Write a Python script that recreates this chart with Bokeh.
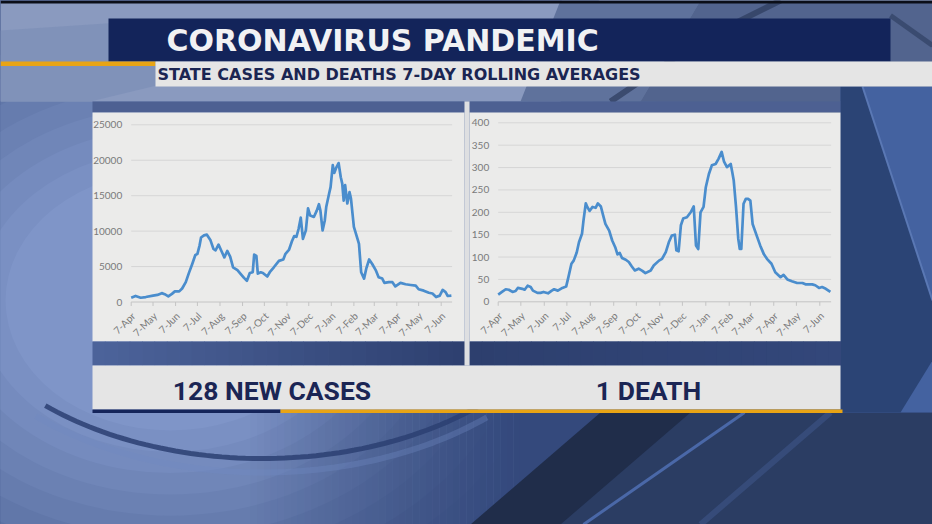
import math
import pandas as pd
from bokeh.plotting import figure
from bokeh.models import Range1d
from bokeh.core.properties import value
from bokeh.embed import file_html
from bokeh.resources import INLINE

# ---------------- data ----------------
TITLE = "CORONAVIRUS PANDEMIC"
SUBTITLE = "STATE CASES AND DEATHS 7-DAY ROLLING AVERAGES"
LEFT_LABEL = "128 NEW CASES"
RIGHT_LABEL = "1 DEATH"

month_labels = ["7-Apr", "7-May", "7-Jun", "7-Jul", "7-Aug", "7-Sep", "7-Oct", "7-Nov",
                "7-Dec", "7-Jan", "7-Feb", "7-Mar", "7-Apr", "7-May", "7-Jun"]
case_ticks = [0, 5000, 10000, 15000, 20000, 25000]
death_ticks = [0, 50, 100, 150, 200, 250, 300, 350, 400]

case_dates = [
    "2020-04-07", "2020-04-13", "2020-04-20", "2020-04-27", "2020-05-07", "2020-05-13",
    "2020-05-19", "2020-05-23", "2020-05-28", "2020-06-02", "2020-06-06", "2020-06-12",
    "2020-06-16", "2020-06-21", "2020-06-25", "2020-06-30", "2020-07-04", "2020-07-07",
    "2020-07-10", "2020-07-12", "2020-07-16", "2020-07-20", "2020-07-25", "2020-07-29",
    "2020-08-01", "2020-08-05", "2020-08-09", "2020-08-13", "2020-08-17", "2020-08-21",
    "2020-08-25", "2020-08-31", "2020-09-04", "2020-09-09", "2020-09-13", "2020-09-17",
    "2020-09-21", "2020-09-23", "2020-09-26", "2020-09-28", "2020-10-02", "2020-10-05",
    "2020-10-11", "2020-10-15", "2020-10-20", "2020-10-27", "2020-11-02", "2020-11-05",
    "2020-11-10", "2020-11-14", "2020-11-17", "2020-11-20", "2020-11-23", "2020-11-26",
    "2020-11-29", "2020-12-03", "2020-12-06", "2020-12-09", "2020-12-14", "2020-12-18",
    "2020-12-21", "2020-12-23", "2020-12-26", "2020-12-29", "2020-12-31", "2021-01-04",
    "2021-01-06", "2021-01-09", "2021-01-11", "2021-01-14", "2021-01-17", "2021-01-20",
    "2021-01-22", "2021-01-24", "2021-01-26", "2021-01-29", "2021-02-01", "2021-02-03",
    "2021-02-07", "2021-02-12", "2021-02-14", "2021-02-17", "2021-02-21", "2021-02-24",
    "2021-02-28", "2021-03-04", "2021-03-09", "2021-03-13", "2021-03-18", "2021-03-21",
    "2021-03-27", "2021-04-01", "2021-04-05", "2021-04-12", "2021-04-19", "2021-04-26",
    "2021-05-03", "2021-05-07", "2021-05-14", "2021-05-21", "2021-05-26", "2021-05-31",
    "2021-06-05", "2021-06-09", "2021-06-13", "2021-06-16", "2021-06-21"]
case_values = [
    600, 850, 600, 700, 900, 1000,
    1250, 1100, 800, 1150, 1500, 1500,
    1900, 2800, 4000, 5400, 6600, 6800,
    8000, 9100, 9400, 9500, 8700, 7500,
    7300, 8100, 7200, 6300, 7200, 6400,
    4900, 4500, 4000, 3400, 3000, 4100,
    4200, 6700, 6500, 4000, 4200, 4100,
    3600, 4300, 4900, 5800, 6000, 6800,
    7400, 8600, 9300, 9200, 10300, 11900,
    8900, 10100, 13200, 12200, 12000, 12900,
    13800, 12900, 10100, 11500, 13400, 15300,
    16200, 19300, 18200, 19000, 19600, 17600,
    16700, 14300, 16500, 13900, 15500, 14600,
    10600, 8900, 8200, 4200, 3300, 4700,
    6000, 5400, 4500, 3500, 3300, 2700,
    2800, 2800, 2200, 2700, 2500, 2400,
    2300, 1800, 1600, 1300, 1200, 700,
    900, 1700, 1400, 850, 900]

death_dates = [
    "2020-04-07", "2020-04-12", "2020-04-17", "2020-04-21", "2020-04-26", "2020-04-30",
    "2020-05-03", "2020-05-09", "2020-05-12", "2020-05-16", "2020-05-20", "2020-05-23",
    "2020-05-29", "2020-06-02", "2020-06-06", "2020-06-12", "2020-06-17", "2020-06-20",
    "2020-06-25", "2020-07-01", "2020-07-06", "2020-07-09", "2020-07-13", "2020-07-16",
    "2020-07-20", "2020-07-23", "2020-07-27", "2020-07-29", "2020-08-01", "2020-08-03",
    "2020-08-06", "2020-08-10", "2020-08-14", "2020-08-17", "2020-08-21", "2020-08-24",
    "2020-08-27", "2020-09-01", "2020-09-05", "2020-09-09", "2020-09-12", "2020-09-15",
    "2020-09-18", "2020-09-23", "2020-09-27", "2020-10-01", "2020-10-05", "2020-10-10",
    "2020-10-15", "2020-10-19", "2020-10-26", "2020-10-30", "2020-11-06", "2020-11-10",
    "2020-11-15", "2020-11-19", "2020-11-23", "2020-11-27", "2020-11-29", "2020-12-02",
    "2020-12-05", "2020-12-08", "2020-12-13", "2020-12-18", "2020-12-22", "2020-12-25",
    "2020-12-28", "2020-12-31", "2021-01-04", "2021-01-07", "2021-01-11", "2021-01-15",
    "2021-01-20", "2021-01-24", "2021-01-28", "2021-01-31", "2021-02-04", "2021-02-09",
    "2021-02-11", "2021-02-13", "2021-02-16", "2021-02-19", "2021-02-21", "2021-02-23",
    "2021-02-26", "2021-03-01", "2021-03-04", "2021-03-07", "2021-03-10", "2021-03-16",
    "2021-03-20", "2021-03-25", "2021-03-29", "2021-04-04", "2021-04-09", "2021-04-16",
    "2021-04-20", "2021-04-25", "2021-05-01", "2021-05-08", "2021-05-15", "2021-05-19",
    "2021-05-28", "2021-06-01", "2021-06-06", "2021-06-10", "2021-06-15", "2021-06-21"]
death_values = [
    16, 22, 28, 27, 22, 24,
    31, 29, 27, 36, 33, 25,
    20, 20, 22, 19, 25, 28,
    25, 31, 34, 55, 85, 92,
    110, 133, 152, 182, 220, 212,
    203, 212, 210, 220, 213, 193,
    174, 159, 137, 122, 106, 109,
    98, 94, 89, 79, 70, 74,
    69, 64, 70, 81, 92, 96,
    111, 133, 148, 150, 115, 113,
    171, 186, 189, 200, 213, 126,
    118, 200, 212, 256, 285, 305,
    308, 320, 335, 314, 301, 308,
    290, 271, 212, 141, 118, 118,
    219, 230, 230, 226, 174, 145,
    126, 106, 96, 85, 66, 55,
    60, 50, 46, 42, 42, 39,
    39, 37, 31, 33, 29, 22]

START = pd.Timestamp("2020-04-07")


def day_offsets(dates):
    return [(pd.Timestamp(d) - START).days for d in dates]


case_days = day_offsets(case_dates)
death_days = day_offsets(death_dates)
month_days = day_offsets(pd.date_range(START, periods=len(month_labels),
                                       freq=pd.DateOffset(months=1)))
END_DAY = 441

# ---------------- canvas (reference pixel coordinates) ----------------
W, H = 932, 524
X0, Y0 = 0, 0

p = figure(width=W, height=H, x_range=Range1d(X0, X0 + W), y_range=Range1d(Y0 + H, Y0),
           output_backend="svg", toolbar_location=None, min_border=0,
           x_axis_location=None, y_axis_location=None,
           background_fill_color="#2f4470", border_fill_color="#2f4470")
p.grid.visible = False
p.outline_line_color = None


def xr(d0, px0, d1, px1):
    f0, f1 = (px0 - X0) / W, (px1 - X0) / W
    span = (d1 - d0) / (f1 - f0)
    s = d0 - f0 * span
    return Range1d(s, s + span)


def yr(v0, py0, v1, py1):
    f0, f1 = (Y0 + H - py0) / H, (Y0 + H - py1) / H
    span = (v1 - v0) / (f1 - f0)
    s = v0 - f0 * span
    return Range1d(s, s + span)


p.extra_x_ranges = {"cx": xr(0, 130.7, 426, 440.7), "dx": xr(0, 497.7, 426, 819.3)}
p.extra_y_ranges = {"cy": yr(0, 301.5, 25000, 124.3), "dy": yr(0, 301.3, 400, 122.3)}


def hexmix(c1, c2, t):
    a = [int(c1[i:i + 2], 16) for i in (1, 3, 5)]
    b = [int(c2[i:i + 2], 16) for i in (1, 3, 5)]
    return "#%02x%02x%02x" % tuple(int(round(a[k] + (b[k] - a[k]) * t)) for k in range(3))


def hgrad(l, r, top, bottom, c1, c2, n):
    w = (r - l) / n
    for i in range(n):
        p.quad(left=l + w * i, right=l + w * (i + 1) + 0.6, top=top, bottom=bottom,
               fill_color=hexmix(c1, c2, i / max(n - 1, 1)), line_color=None)


# ---------------- background ----------------
steps = 16
for i in range(steps):
    t = i / (steps - 1)
    p.ellipse(x=170, y=300, width=1150 - 820 * t, height=900 - 640 * t,
              fill_color=hexmix("#34497a", "#7f95c8", t), line_color=None)
# bottom: soft darkening toward the right
n_fade = 40
for i in range(n_fade):
    w = (520 - 250) / n_fade
    p.quad(left=250 + w * i, right=250 + w * (i + 1), top=412, bottom=524,
           fill_color="#34497c", fill_alpha=(i + 1) / n_fade, line_color=None)
p.patch(x=[519, 932, 932, 519], y=[412, 412, 524, 524], fill_color="#34497c", line_color=None)
p.patch(x=[610, 932, 932, 490], y=[412, 412, 524, 524], fill_color="#2b3d63", line_color=None)
p.patch(x=[600, 690, 560, 470], y=[412, 412, 524, 524], fill_color="#202d4a", line_color=None)
p.line(x=[744, 583], y=[412, 524], line_color="#4a68a8", line_width=3)
p.line(x=[830, 700], y=[412, 524], line_color="#3d5588", line_width=6, line_alpha=0.6)
arc_t = [0.85 + k * (2.3 - 0.85) / 60 for k in range(61)]
p.line(x=[262 + 326 * math.cos(t) for t in arc_t], y=[250 + 208 * math.sin(t) for t in arc_t],
       line_color="#2b3f72", line_width=5, line_alpha=0.85)
p.line(x=[262 + 340 * math.cos(t) for t in arc_t], y=[250 + 222 * math.sin(t) for t in arc_t],
       line_color="#7089c4", line_width=6, line_alpha=0.35)
# top band
p.patch(x=[0, 932, 932, 0], y=[0, 0, 101, 101], fill_color="#7385ad", line_color=None)
p.patch(x=[0, 620, 560, 0], y=[0, 0, 101, 101], fill_color="#8a9abf", line_color=None)
p.patch(x=[0, 150, 260, 90, 0], y=[30, 20, 60, 101, 101], fill_color="#7c8eb7",
        line_color=None, fill_alpha=0.7)
p.patch(x=[560, 700, 640, 520], y=[0, 0, 101, 101], fill_color="#5f729c", line_color=None)
p.patch(x=[700, 932, 932, 640], y=[0, 0, 101, 101], fill_color="#52648e", line_color=None)
p.line(x=[610, 700, 780], y=[101, 40, 0], line_color="#2c3a5c", line_width=6, line_alpha=0.7)
p.line(x=[890, 932], y=[15, 45], line_color="#2c3a5c", line_width=5, line_alpha=0.6)
p.quad(left=0, right=932, top=0, bottom=3, fill_color="#0b0e18", line_color=None)
# right side
p.patch(x=[840, 932, 932, 840], y=[86, 86, 412, 412], fill_color="#4462a0", line_color=None)
p.patch(x=[840, 862, 932, 932, 900, 840], y=[86, 86, 300, 360, 412, 412],
        fill_color="#2b4475", line_color=None)
p.line(x=[862, 932], y=[86, 300], line_color="#5a78b4", line_width=2)

# ---------------- header ----------------
p.quad(left=108, right=890, top=18, bottom=61, fill_color="#13245a", line_color=None)
p.quad(left=0, right=155, top=61, bottom=65.5, fill_color="#e8a415", line_color=None)
p.quad(left=155, right=932, top=61, bottom=86, fill_color="#e5e5e5", line_color=None)
p.text(x=[166], y=[39.5], text=[TITLE], text_font=value("DejaVu Sans"), text_font_style="bold",
       text_font_size="30px", text_color="#f1f2f4", text_baseline="middle", text_align="left")
p.text(x=[157], y=[74], text=[SUBTITLE], text_font=value("DejaVu Sans"), text_font_style="bold",
       text_font_size="16px", text_color="#1b2552", text_baseline="middle", text_align="left")

# ---------------- chart frames ----------------
for l, r in ((92, 464), (469, 840)):
    p.quad(left=l, right=r, top=101, bottom=112, fill_color="#4d6092", line_color=None)
    p.quad(left=l, right=r, top=112, bottom=341, fill_color="#ebebea", line_color=None)
hgrad(92, 464, 341, 365, "#4c639a", "#2e4070", 30)
hgrad(469, 840, 341, 365, "#2d3f6e", "#33477a", 30)
p.quad(left=464, right=469, top=101, bottom=365, fill_color="#dedfe1", line_color=None)
p.quad(left=92, right=840, top=365, bottom=409, fill_color="#e5e5e5", line_color=None)
p.quad(left=92, right=280, top=409, bottom=412.5, fill_color="#15255a", line_color=None)
p.quad(left=280, right=842, top=409, bottom=412.5, fill_color="#e8a415", line_color=None)

p.text(x=[271.5], y=[390], text=[LEFT_LABEL], text_font=value("Roboto"), text_font_style="bold",
       text_font_size="26.5px", text_color="#1b2554", text_baseline="middle", text_align="center")
p.text(x=[648], y=[390], text=[RIGHT_LABEL], text_font=value("Roboto"), text_font_style="bold",
       text_font_size="26.5px", text_color="#1b2554", text_baseline="middle", text_align="center")


# ---------------- the two line charts ----------------
def draw_chart(xname, yname, ticks, xs, ys, px_per_unit):
    kw = dict(x_range_name=xname, y_range_name=yname)
    p.segment(x0=[0] * len(ticks[1:]), x1=[END_DAY] * len(ticks[1:]), y0=ticks[1:], y1=ticks[1:],
              line_color="#d6d6d6", line_width=1, **kw)
    p.segment(x0=[0], x1=[END_DAY], y0=[0], y1=[0], line_color="#c4c4c4", line_width=1, **kw)
    tick_len = 4 / px_per_unit
    p.segment(x0=month_days, x1=month_days, y0=[0] * len(month_days),
              y1=[-tick_len] * len(month_days), line_color="#c4c4c4", line_width=1, **kw)
    p.text(x=[0] * len(ticks), y=ticks, text=[str(t) for t in ticks], x_offset=-9,
           text_align="right", text_baseline="middle", text_font=value("Lato"),
           text_font_size="10px", text_color="#7a7a7a", **kw)
    p.text(x=month_days, y=[0] * len(month_days), text=month_labels, angle=math.pi / 4,
           x_offset=2, y_offset=12, text_align="right", text_baseline="middle",
           text_font=value("Lato"), text_font_size="10px", text_color="#7a7a7a", **kw)
    p.line(x=xs, y=ys, line_color="#4a8dcd", line_width=2.7, line_join="round", **kw)


draw_chart("cx", "cy", case_ticks, case_days, case_values, (301.5 - 124.3) / 25000)
draw_chart("dx", "dy", death_ticks, death_days, death_values, (301.3 - 122.3) / 400)

open("out.html", "w").write(file_html(p, INLINE))
